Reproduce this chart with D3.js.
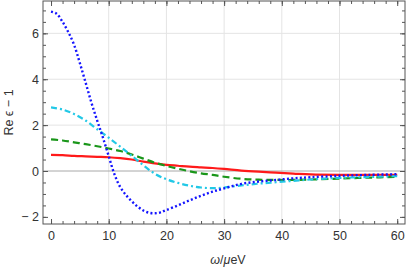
<!DOCTYPE html>
<html>
<head>
<meta charset="utf-8">
<script src="https://cdn.jsdelivr.net/npm/d3@7"></script>
<style>
  body { margin: 0; background: #fff; }
  text { font-family: "Liberation Sans", Arial, sans-serif; fill: #333; }
</style>
</head>
<body>
<script>
// valores: omega en microeV
var omegaBlue = [0,1,2,3,4,5,6,7,8,9,10,11,12,13,14,15,16,17,18,19,20,22,24,26,28,30,33,36,39,42,45,50,55,60];
var blueVals  = [6.95,6.85,6.5,6.05,5.5,4.7,3.85,2.98,2.2,1.45,0.65,-0.15,-0.7,-1.05,-1.32,-1.55,-1.72,-1.82,-1.84,-1.8,-1.7,-1.5,-1.28,-1.08,-0.9,-0.76,-0.56,-0.46,-0.39,-0.32,-0.27,-0.21,-0.17,-0.14];

var omegaOther = [0,2,4,6,8,10,12,14,16,18,20,22,24,26,28,30,33,36,39,42,45,50,55,60];
var cyanVals  = [2.77,2.68,2.48,2.2,1.82,1.45,1.06,0.66,0.25,-0.12,-0.36,-0.52,-0.64,-0.72,-0.75,-0.72,-0.63,-0.55,-0.49,-0.43,-0.37,-0.3,-0.26,-0.22];
var greenVals = [1.38,1.33,1.25,1.17,1.08,0.98,0.87,0.72,0.54,0.36,0.22,0.1,-0.01,-0.1,-0.17,-0.25,-0.34,-0.38,-0.39,-0.39,-0.37,-0.33,-0.29,-0.25];
var redVals   = [0.7,0.69,0.66,0.64,0.62,0.6,0.56,0.5,0.41,0.33,0.27,0.23,0.19,0.16,0.13,0.09,0.02,-0.03,-0.07,-0.11,-0.15,-0.17,-0.17,-0.17];

var xTicks = [0,10,20,30,40,50,60];
var yTicks = [-2,0,2,4,6];
var yTickLabels = ["\u2212 2","0","2","4","6"];

var vis = {
    width: 407,
    height: 269,
    left: 43,
    right: 405,
    top: 1,
    bottom: 224
};

var svg = d3.select("body").append("svg")
    .attr("width", vis.width)
    .attr("height", vis.height);

// escalas
var x = d3.scaleLinear().domain([-1.39, 61.35]).range([vis.left, vis.right]);
var y = d3.scaleLinear().domain([-2.31, 7.41]).range([vis.bottom, vis.top]);

// rejilla
svg.append("g").selectAll("line")
    .data([10,20,30,40,50])
    .enter().append("line")
    .attr("x1", d => x(d)).attr("x2", d => x(d))
    .attr("y1", vis.top).attr("y2", vis.bottom)
    .attr("stroke", "#e4e4e4").attr("stroke-width", 1);
svg.append("g").selectAll("line")
    .data([2,4,6])
    .enter().append("line")
    .attr("x1", vis.left).attr("x2", vis.right)
    .attr("y1", d => y(d)).attr("y2", d => y(d))
    .attr("stroke", "#e4e4e4").attr("stroke-width", 1);

// eje cero
svg.append("line")
    .attr("x1", vis.left).attr("x2", vis.right)
    .attr("y1", y(0)).attr("y2", y(0))
    .attr("stroke", "#a8a8a8").attr("stroke-width", 1);

// curvas
var line = d3.line()
    .x(d => x(d[0]))
    .y(d => y(d[1]))
    .curve(d3.curveCatmullRom);

function serie(xs, ys) { return xs.map((v, i) => [v, ys[i]]); }

var clip = svg.append("clipPath").attr("id", "clip")
    .append("rect").attr("x", vis.left).attr("y", vis.top)
    .attr("width", vis.right - vis.left).attr("height", vis.bottom - vis.top);

var curves = svg.append("g").attr("clip-path", "url(#clip)");

curves.append("path").datum(serie(omegaOther, redVals))
    .attr("d", line).attr("fill", "none")
    .attr("stroke", "#ff1a1a").attr("stroke-width", 2.2);

curves.append("path").datum(serie(omegaOther, greenVals))
    .attr("d", line).attr("fill", "none")
    .attr("stroke", "#1a961a").attr("stroke-width", 2.2)
    .attr("stroke-dasharray", "7,4");

curves.append("path").datum(serie(omegaOther, cyanVals))
    .attr("d", line).attr("fill", "none")
    .attr("stroke", "#22c8e6").attr("stroke-width", 2.2)
    .attr("stroke-dasharray", "6,3,2,3");

curves.append("path").datum(serie(omegaBlue, blueVals))
    .attr("d", line).attr("fill", "none")
    .attr("stroke", "#1414ff").attr("stroke-width", 2.4)
    .attr("stroke-dasharray", "2,2.3");

// marco con ticks hacia dentro
var minorX = d3.range(0, 61, 2);
var minorY = d3.range(-2, 7.01, 0.5);

function ejes(axisFn, scale, pos, major, minor, labels, transform) {
    var g = svg.append("g").attr("transform", transform);
    g.call(axisFn(scale).tickValues(minor).tickSize(-3).tickFormat(""));
    var gm = svg.append("g").attr("transform", transform);
    var a = axisFn(scale).tickValues(major).tickSize(-5).tickPadding(pos);
    if (labels) a.tickFormat((d, i) => labels[i]); else a.tickFormat("");
    gm.call(a);
    [g, gm].forEach(function(s) {
        s.select(".domain").remove();
        s.selectAll("line").attr("stroke", "#555");
        s.selectAll("text").attr("font-size", "12.5px").attr("fill", "#333")
            .attr("font-family", "Liberation Sans, Arial, sans-serif");
    });
}

ejes(d3.axisBottom, x, 7, xTicks, minorX, xTicks.map(String), "translate(0," + vis.bottom + ")");
ejes(d3.axisTop, x, 7, xTicks, minorX, null, "translate(0," + vis.top + ")");
ejes(d3.axisLeft, y, 4, yTicks, minorY, yTickLabels, "translate(" + vis.left + ",0)");
ejes(d3.axisRight, y, 4, yTicks, minorY, null, "translate(" + vis.right + ",0)");

svg.append("rect")
    .attr("x", vis.left).attr("y", vis.top)
    .attr("width", vis.right - vis.left).attr("height", vis.bottom - vis.top)
    .attr("fill", "none").attr("stroke", "#555").attr("stroke-width", 1);

// titulos de ejes
var xl = svg.append("text")
    .attr("x", (vis.left + vis.right) / 2 + 4).attr("y", 264)
    .attr("text-anchor", "middle").attr("font-size", "12.5px");
xl.append("tspan").attr("font-style", "italic").text("\u03c9");
xl.append("tspan").text("/");
xl.append("tspan").attr("font-style", "italic").text("\u03bc");
xl.append("tspan").text("eV");

svg.append("text")
    .attr("transform", "translate(13," + ((vis.top + vis.bottom) / 2) + ") rotate(-90)")
    .attr("text-anchor", "middle").attr("font-size", "12.5px")
    .text("Re \u03f5 \u2212 1");
</script>
</body>
</html>
